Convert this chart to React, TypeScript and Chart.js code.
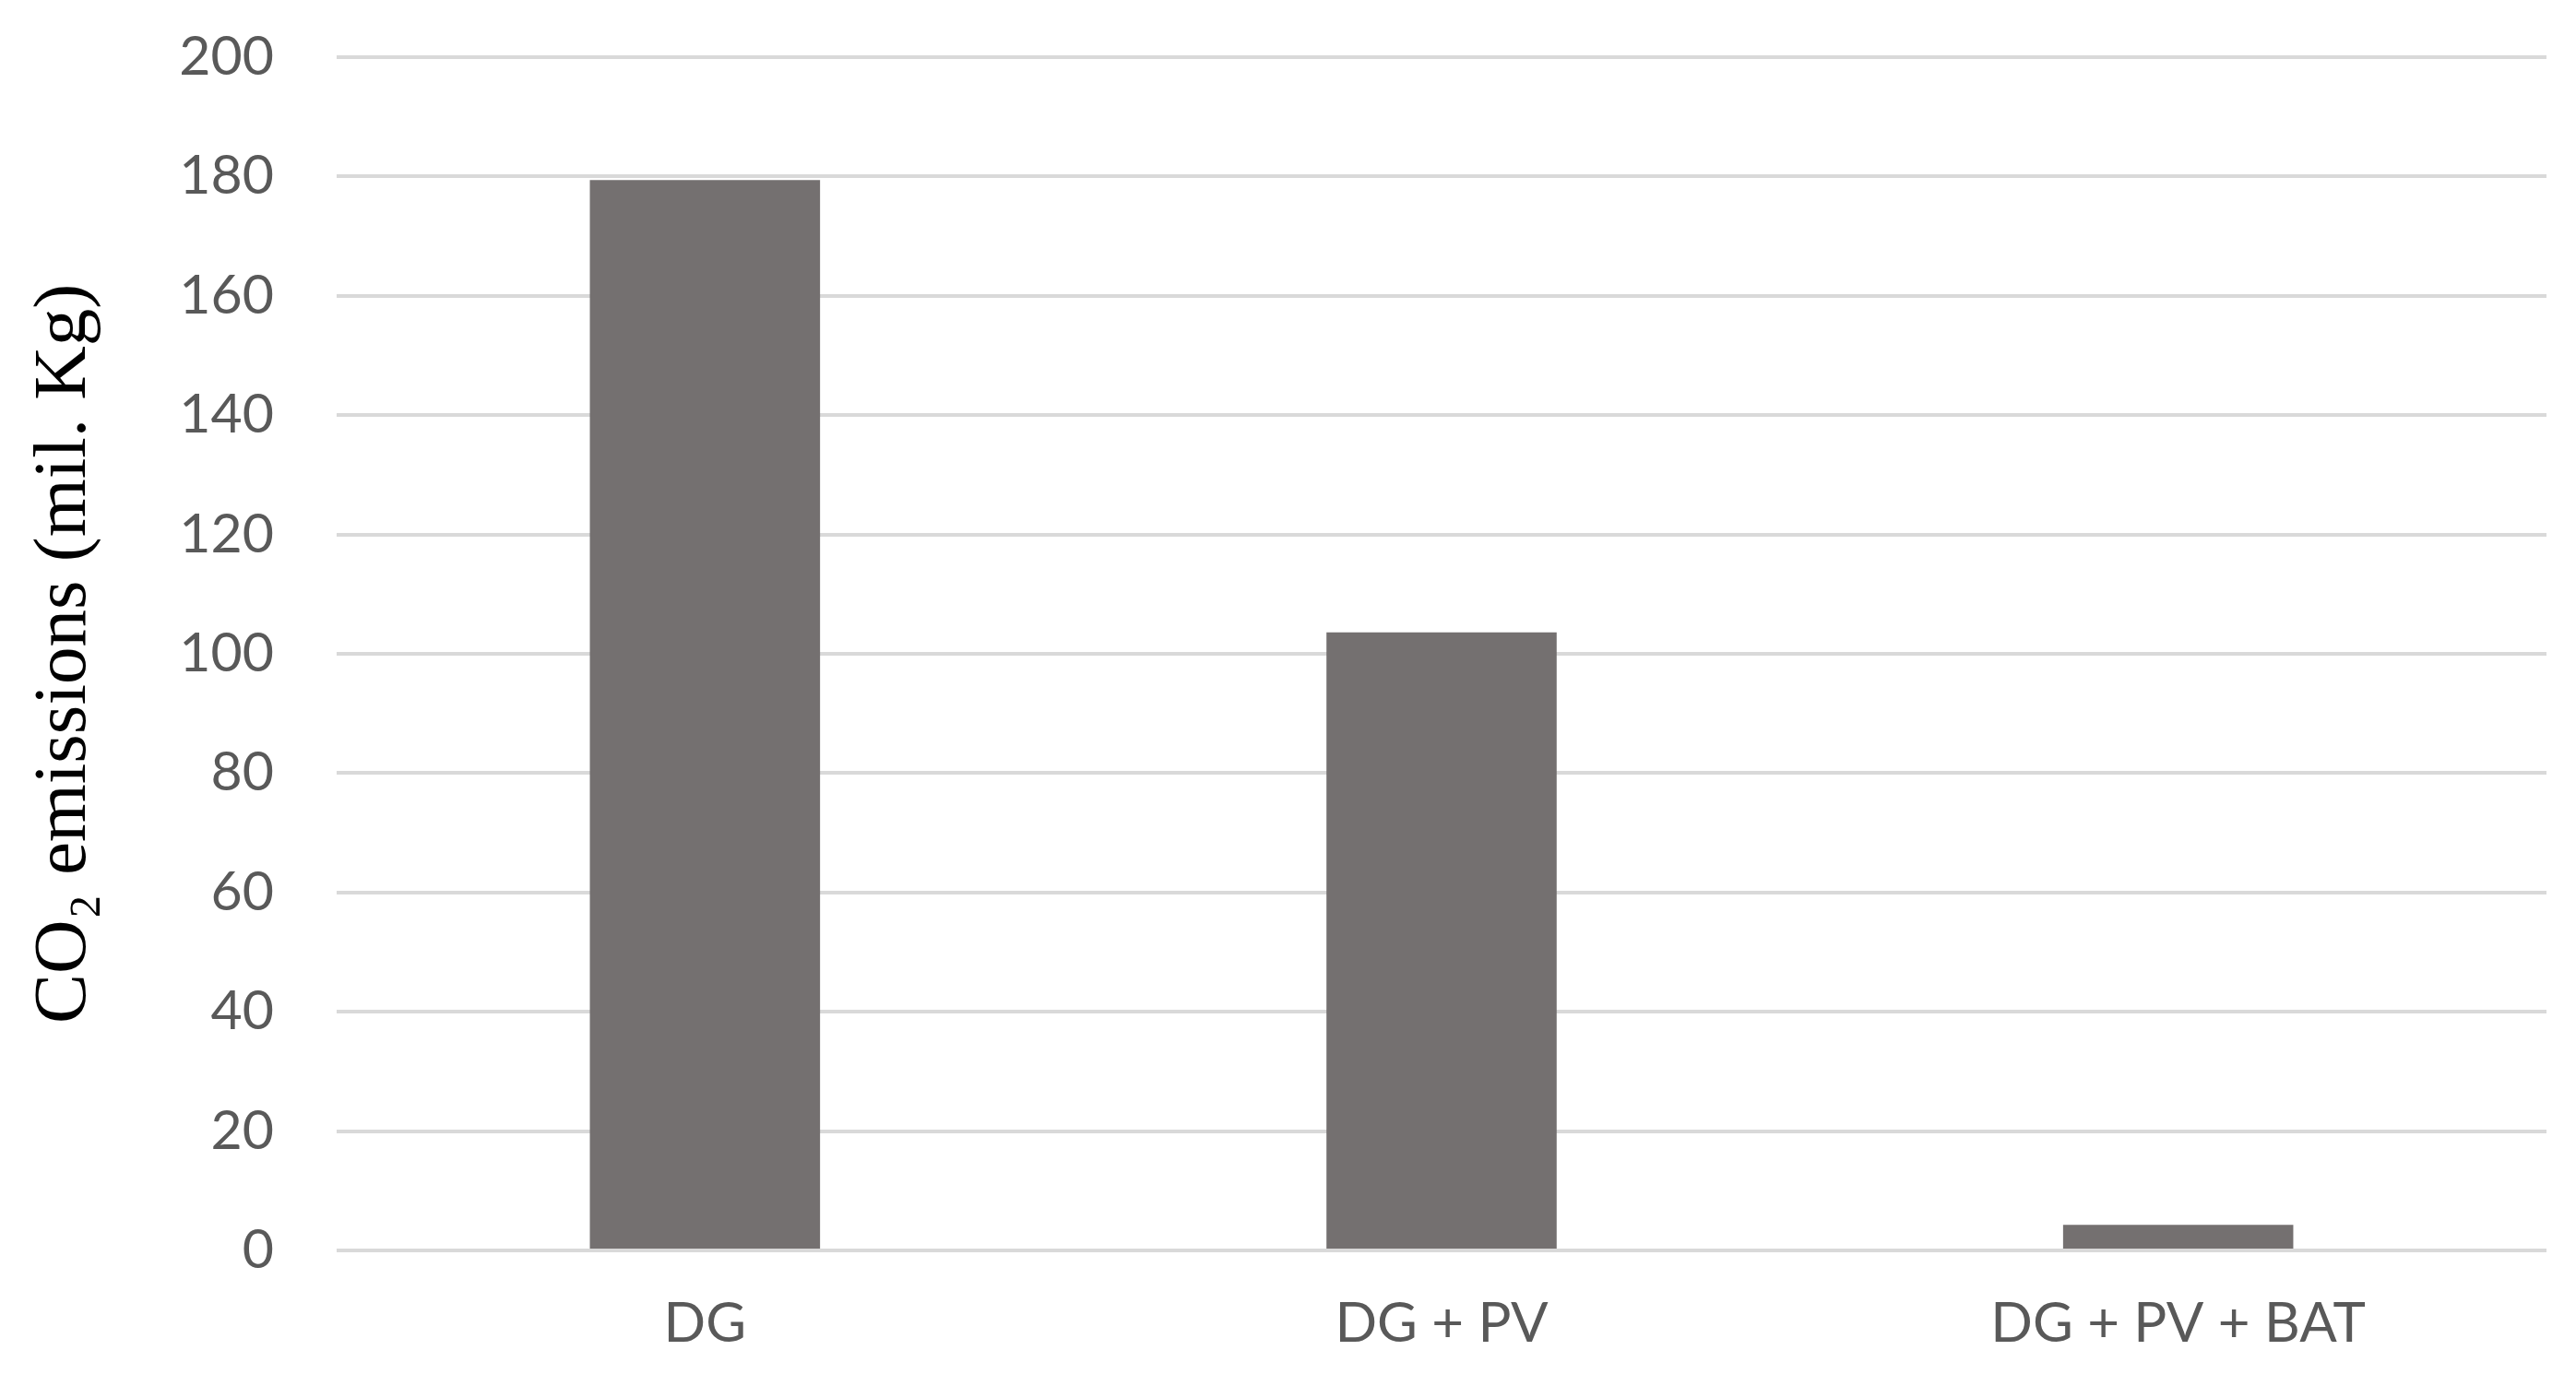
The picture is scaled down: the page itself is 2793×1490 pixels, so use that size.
import React, { useEffect, useRef } from "react";
import { Chart, registerables } from "chart.js";

Chart.register(...registerables);

const categories = ["DG", "DG + PV", "DG + PV + BAT"];
const emissions = [179.4, 103.6, 4.3];
const yTicks = [0, 20, 40, 60, 80, 100, 120, 140, 160, 180, 200];

export default function App() {
  const ref = useRef<HTMLCanvasElement | null>(null);

  useEffect(() => {
    document.body.style.margin = "0";
    const canvas = ref.current;
    if (!canvas) return;
    const chart = new Chart(canvas, {
      type: "bar",
      data: {
        labels: categories,
        datasets: [
          {
            data: emissions,
            backgroundColor: "#747070",
            borderWidth: 0,
            barPercentage: 0.3125,
            categoryPercentage: 1,
          },
        ],
      },
      options: {
        animation: false,
        responsive: false,
        maintainAspectRatio: false,
        layout: { padding: { top: 62, right: 32, left: 0, bottom: 0 } },
        plugins: {
          legend: { display: false },
          tooltip: { enabled: false },
        },
        scales: {
          x: {
            grid: { display: false, drawTicks: false },
            border: { display: false },
            ticks: {
              color: "#595959",
              font: { family: "Lato", size: 60 },
              padding: 44,
              maxRotation: 0,
            },
            afterFit: (s: any) => {
              s.height = 134;
              s.paddingLeft = 0;
              s.paddingRight = 0;
            },
          },
          y: {
            min: 0,
            max: 200,
            afterBuildTicks: (s: any) => {
              s.ticks = yTicks.map((v) => ({ value: v }));
            },
            grid: { color: "#d9d9d9", lineWidth: 4, drawTicks: false },
            border: { display: false },
            ticks: {
              color: "#595959",
              font: { family: "Lato", size: 59 },
              padding: 68,
            },
            title: {
              display: true,
              text: "CO\u2082 emissions (mil. Kg)",
              color: "#000000",
              font: { family: "Liberation Serif", size: 81 },
              padding: { top: 22, bottom: 0 },
            },
            afterFit: (s: any) => {
              s.width = 365;
              s.paddingTop = 0;
              s.paddingBottom = 0;
            },
          },
        },
      },
    });
    return () => chart.destroy();
  }, []);

  return (
    <div style={{ width: 2793, height: 1490, background: "#ffffff" }}>
      <canvas ref={ref} width={2793} height={1490} style={{ display: "block" }} />
    </div>
  );
}
